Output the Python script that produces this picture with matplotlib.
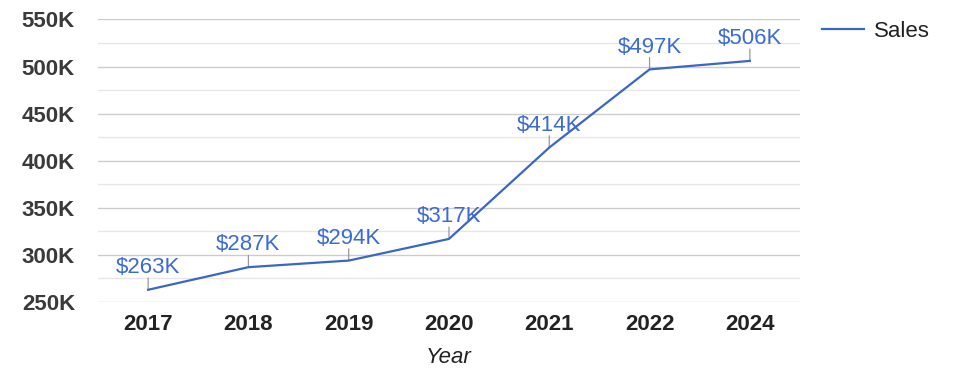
import matplotlib
matplotlib.use("Agg")
import matplotlib.pyplot as plt
from matplotlib.lines import Line2D

plt.rcParams['font.family'] = ['Liberation Sans', 'DejaVu Sans']

years = ["2017", "2018", "2019", "2020", "2021", "2022", "2024"]
sales = [263000, 287000, 294000, 317000, 414000, 497000, 506000]
data_labels = ["$263K", "$287K", "$294K", "$317K", "$414K", "$497K", "$506K"]
y_ticks = [250000, 300000, 350000, 400000, 450000, 500000, 550000]
y_tick_labels = ["250K", "300K", "350K", "400K", "450K", "500K", "550K"]
minor_ticks = [275000, 325000, 375000, 425000, 475000, 525000]

line_color = "#3a66c4"
label_color = "#3c6bd0"
FS = 16

fig = plt.figure(figsize=(9.75, 3.78), dpi=100)
ax = fig.add_axes([0.1005, 0.201, 0.7200, 0.7475])

x = list(range(len(years)))
ax.plot(x, sales, color=line_color, lw=1.6, zorder=3, label="Sales")

for xi, yi, lab in zip(x, sales, data_labels):
    ax.annotate("", xy=(xi, yi), xytext=(0, 8.5), textcoords="offset points",
                arrowprops=dict(arrowstyle="-", color="#999999", lw=0.9,
                                shrinkA=0, shrinkB=0), zorder=2)
    ax.annotate(lab, xy=(xi, yi), xytext=(0, 8.5), textcoords="offset points",
                ha="center", va="bottom", fontsize=FS, color=label_color, zorder=4)

ax.set_xlim(-0.5, len(years) - 0.5)
ax.set_ylim(250000, 550000)
ax.set_yticks(y_ticks)
ax.set_yticklabels(y_tick_labels, fontsize=FS, fontweight="bold", color="#3a3a3a")
ax.set_yticks(minor_ticks, minor=True)
ax.set_xticks(x)
ax.set_xticklabels(years, fontsize=FS, fontweight="bold", color="#222222")
ax.tick_params(axis="y", which="both", length=0, pad=16.5)
ax.tick_params(axis="x", length=0, pad=8.5)
ax.grid(axis="y", which="major", color="#cccccc", lw=1.0)
ax.grid(axis="y", which="minor", color="#e6e6e6", lw=1.0)
ax.set_axisbelow(True)
for s in ax.spines.values():
    s.set_visible(False)

ax.set_xlabel("Year", fontsize=FS, fontstyle="italic", color="#222222", labelpad=8.5)

handle = Line2D([0], [0], color=line_color, lw=1.6)
fig.legend([handle], ["Sales"], loc="upper left", bbox_to_anchor=(0.823, 0.998),
           frameon=False, fontsize=FS, handlelength=1.85, handletextpad=0.45,
           labelcolor="#222222")

fig.savefig("out.png", dpi=100, facecolor="white")
